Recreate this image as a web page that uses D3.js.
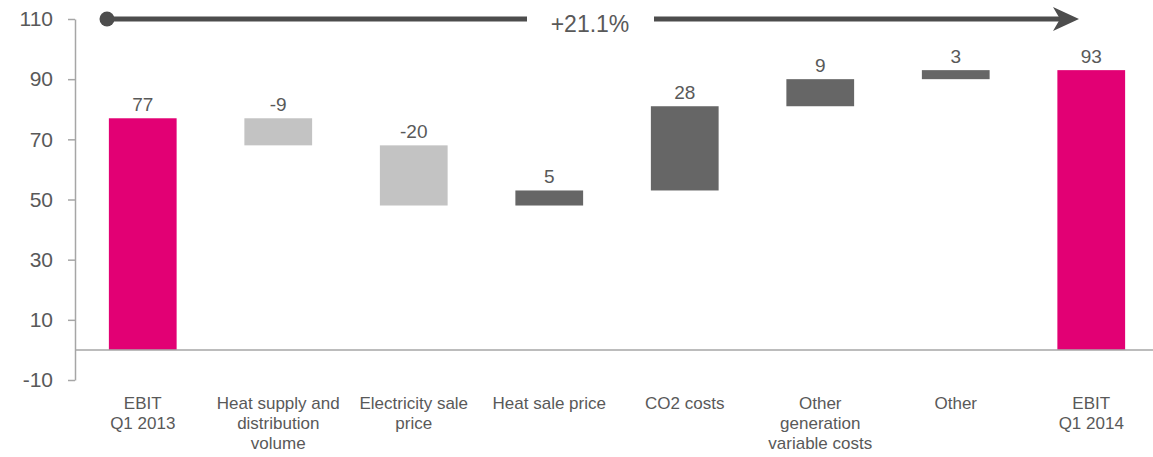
<!DOCTYPE html>
<html><head><meta charset="utf-8">
<script src="https://cdn.jsdelivr.net/npm/d3@7"></script>
<style>body{margin:0;background:#fff}svg{display:block}</style>
</head><body><svg id="c" width="1153" height="457"></svg>
<script>
const categories = [["EBIT","Q1 2013"],["Heat supply and","distribution","volume"],["Electricity sale","price"],["Heat sale price"],["CO2 costs"],["Other","generation","variable costs"],["Other"],["EBIT","Q1 2014"]];
const deltas = [77, -9, -20, 5, 28, 9, 3, 93];
const kinds = ["total","delta","delta","delta","delta","delta","delta","total"];
const yTicks = [-10, 10, 30, 50, 70, 90, 110];
const growthLabel = "+21.1%";

const svg = d3.select("#c");
const y = d3.scaleLinear().domain([-10, 110]).range([380, 19]);
const x = d3.scaleBand().domain(d3.range(categories.length)).range([75, 1159]).paddingInner(0.5).paddingOuter(0.25);

// compute waterfall
let run = 0;
const bars = deltas.map((v, i) => {
  let lo, hi;
  if (kinds[i] === "total") { lo = 0; hi = v; run = v; }
  else { const s = run; run = run + v; lo = Math.min(s, run); hi = Math.max(s, run); }
  const col = kinds[i] === "total" ? "#E20074" : (v < 0 ? "#C3C3C3" : "#666666");
  return {i, v, lo, hi, col};
});

// axis
const ax = svg.append("g").attr("transform", "translate(75,0)")
  .call(d3.axisLeft(y).tickValues(yTicks).tickFormat(d => String(d)).tickSize(7).tickPadding(15).tickSizeOuter(0));
ax.select(".domain").attr("stroke", "#A6A6A6").attr("stroke-width", 1.5);
ax.selectAll(".tick line").attr("stroke", "#A6A6A6").attr("stroke-width", 1.5);
ax.selectAll(".tick text").attr("font-family", "Liberation Sans, Arial, sans-serif").attr("font-size", 21).attr("fill", "#595959");

// bars
svg.selectAll("rect.bar").data(bars).enter().append("rect")
  .attr("x", d => x(d.i)).attr("width", x.bandwidth())
  .attr("y", d => y(d.hi)).attr("height", d => y(d.lo) - y(d.hi))
  .attr("fill", d => d.col);

// baseline
svg.append("line").attr("x1", 75).attr("x2", 1153).attr("y1", y(0)).attr("y2", y(0))
  .attr("stroke", "#A6A6A6").attr("stroke-width", 1.5);

// value labels
svg.selectAll("text.val").data(bars).enter().append("text")
  .attr("x", d => x(d.i) + x.bandwidth() / 2).attr("y", d => y(d.hi) - 7)
  .attr("text-anchor", "middle").attr("font-family", "Liberation Sans, Arial, sans-serif")
  .attr("font-size", 19).attr("fill", "#595959").text(d => d.v);

// category labels
const cl = svg.selectAll("text.cat").data(categories).enter().append("text")
  .attr("text-anchor", "middle").attr("font-family", "Liberation Sans, Arial, sans-serif")
  .attr("font-size", 17).attr("fill", "#595959");
cl.each(function(lines, i) {
  const t = d3.select(this);
  lines.forEach((l, k) => t.append("tspan").attr("x", x(i) + x.bandwidth() / 2).attr("y", 409 + k * 20).text(l));
});

// growth arrow
const aY = y(110);
const ac = "#4D4D4D";
svg.append("circle").attr("cx", 107).attr("cy", aY).attr("r", 7.5).attr("fill", ac);
svg.append("line").attr("x1", 107).attr("x2", 527).attr("y1", aY).attr("y2", aY).attr("stroke", ac).attr("stroke-width", 5);
svg.append("line").attr("x1", 654).attr("x2", 1060).attr("y1", aY).attr("y2", aY).attr("stroke", ac).attr("stroke-width", 5);
svg.append("path").attr("d", `M1079,${aY} L1053,${aY-12} L1060,${aY} L1053,${aY+12} Z`).attr("fill", ac);
svg.append("text").attr("x", 590).attr("y", 32).attr("text-anchor", "middle")
  .attr("font-family", "Liberation Sans, Arial, sans-serif").attr("font-size", 23).attr("fill", "#595959").text(growthLabel);
</script></body></html>
